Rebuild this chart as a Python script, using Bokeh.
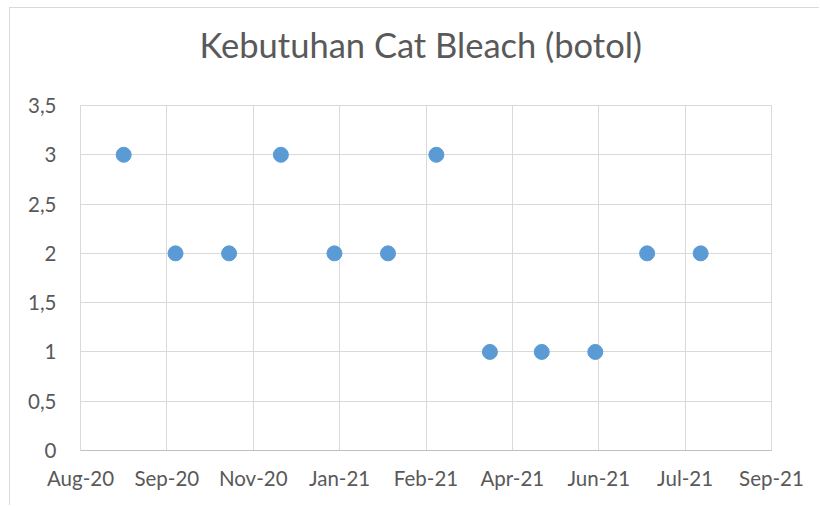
import pandas as pd
from bokeh.plotting import figure
from bokeh.models import FixedTicker, Title, ColumnDataSource, Range1d
from bokeh.embed import file_html
from bokeh.resources import INLINE

# ---- data ----
months = ["2020-09-01", "2020-10-01", "2020-11-01", "2020-12-01",
          "2021-01-01", "2021-02-01", "2021-03-01", "2021-04-01",
          "2021-05-01", "2021-06-01", "2021-07-01", "2021-08-01"]
kebutuhan = [3, 2, 2, 3, 2, 2, 3, 1, 1, 1, 2, 2]

x_axis_start = "2020-08-07"
x_tick_step_days = 50
x_tick_labels = ["Aug-20", "Sep-20", "Nov-20", "Jan-21", "Feb-21",
                 "Apr-21", "Jun-21", "Jul-21", "Sep-21"]

y_ticks = [0, 0.5, 1, 1.5, 2, 2.5, 3, 3.5]
y_tick_labels = ["0", "0,5", "1", "1,5", "2", "2,5", "3", "3,5"]

title_text = "Kebutuhan Cat Bleach (botol)"

# ---- derived ----
DAY_MS = 86400000
def to_ms(s):
    return pd.Timestamp(s).value // 10**6

x_ms = [to_ms(m) for m in months]
start_ms = to_ms(x_axis_start)
x_ticks = [start_ms + k * x_tick_step_days * DAY_MS for k in range(len(x_tick_labels))]

src = ColumnDataSource(data=dict(x=x_ms, y=kebutuhan))

TEXT = "#595959"
GRID = "#d9d9d9"
FONT = "Lato"

p = figure(width=810, height=498, output_backend="svg", toolbar_location=None,
           title=None,
           x_range=Range1d(x_ticks[0], x_ticks[-1]),
           y_range=Range1d(y_ticks[0], y_ticks[-1]),
           min_border_left=70, min_border_right=49,
           min_border_top=97, min_border_bottom=56,
           styles={"margin-left": "9px", "margin-top": "7px",
                   "border-left": "1px solid #d9d9d9", "border-top": "1px solid #d9d9d9"})

# spacer between frame and title (added first -> nearest the frame)
p.add_layout(Title(text=" ", text_font_size="1px", standoff=38), "above")
p.add_layout(Title(text=title_text, align="left", offset=119, text_font=FONT,
                   text_font_size="34.5px", text_font_style="normal",
                   text_color=TEXT, standoff=0), "above")

p.scatter("x", "y", source=src, size=15, marker="circle",
          fill_color="#5B9BD5", line_color="#5B9BD5")

p.xaxis.ticker = FixedTicker(ticks=x_ticks)
p.xaxis.major_label_overrides = {t: l for t, l in zip(x_ticks, x_tick_labels)}
p.yaxis.ticker = FixedTicker(ticks=y_ticks)
p.yaxis.major_label_overrides = {t: l for t, l in zip(y_ticks, y_tick_labels)}

for ax in (p.xaxis, p.yaxis):
    ax.major_tick_line_color = None
    ax.minor_tick_line_color = None
    ax.major_tick_out = 0
    ax.major_tick_in = 0
    ax.major_label_text_font = FONT
    ax.major_label_text_font_size = "20.5px"
    ax.major_label_text_color = TEXT

p.xaxis.axis_line_color = "#bfbfbf"
p.yaxis.axis_line_color = GRID
p.xaxis.major_label_standoff = 15
p.yaxis.major_label_standoff = 24

p.grid.grid_line_color = GRID
p.grid.grid_line_width = 1
p.outline_line_color = GRID
p.background_fill_color = "white"
p.border_fill_color = "white"

open("out.html", "w").write(file_html(p, INLINE))
